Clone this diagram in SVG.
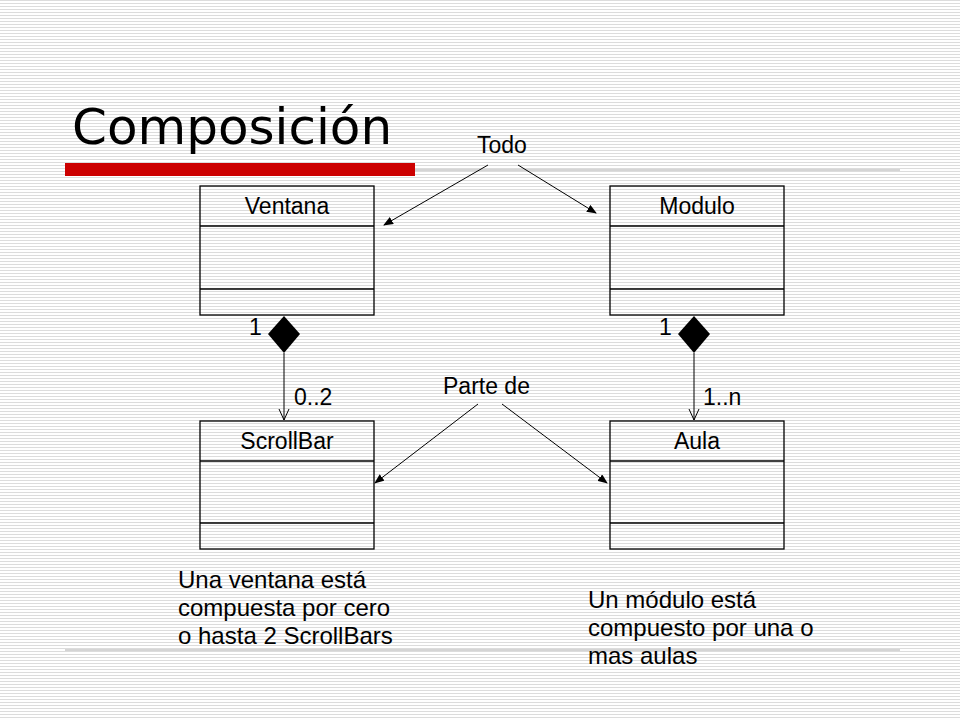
<svg xmlns="http://www.w3.org/2000/svg" width="960" height="720" viewBox="0 0 960 720">
<defs>
<pattern id="st" width="4" height="3" patternUnits="userSpaceOnUse"><rect width="4" height="3" fill="#fff"/><rect width="4" height="1" fill="#dcdcdc"/></pattern>
<marker id="a" markerWidth="10" markerHeight="8" refX="9" refY="4" orient="auto" markerUnits="userSpaceOnUse"><path d="M0,0 L10,4 L0,8 Z" fill="#000"/></marker>
<marker id="o" markerWidth="12" markerHeight="12" refX="11" refY="6" orient="auto" markerUnits="userSpaceOnUse"><path d="M0,1 L11,6 L0,11" fill="none" stroke="#000"/></marker>
</defs>
<style>
text{font-family:"Liberation Sans",Arial,sans-serif;fill:#000}
.box rect{fill:none;stroke:#000;stroke-width:1.3}
.box line{stroke:#000;stroke-width:1.3}
.n{font-size:23px;text-anchor:middle}
.l{font-size:23px}
.t{font-size:24px}
.c line{stroke:#000;stroke-width:1}
</style>
<rect width="960" height="720" fill="url(#st)"/>
<text x="72" y="144" style="font-family:'DejaVu Sans',sans-serif;font-size:50px">Composición</text>
<rect x="65" y="163" width="350" height="13" fill="#cc0000"/>
<line x1="415" y1="170" x2="900" y2="170" stroke="#aaa" stroke-width="1"/>
<line x1="65" y1="650" x2="900" y2="650" stroke="#aaa" stroke-width="1"/>
<g id="ventana" class="box"><rect x="200" y="186" width="174" height="129"/><line x1="200" y1="226" x2="374" y2="226"/><line x1="200" y1="289" x2="374" y2="289"/><text class="n" x="287" y="214">Ventana</text></g>
<g id="modulo" class="box"><rect x="610" y="186" width="174" height="129"/><line x1="610" y1="226" x2="784" y2="226"/><line x1="610" y1="289" x2="784" y2="289"/><text class="n" x="697" y="214">Modulo</text></g>
<g id="scrollbar" class="box"><rect x="200" y="421" width="174" height="128"/><line x1="200" y1="461" x2="374" y2="461"/><line x1="200" y1="523" x2="374" y2="523"/><text class="n" x="287" y="449">ScrollBar</text></g>
<g id="aula" class="box"><rect x="610" y="421" width="174" height="128"/><line x1="610" y1="461" x2="784" y2="461"/><line x1="610" y1="523" x2="784" y2="523"/><text class="n" x="697" y="449">Aula</text></g>
<g class="c">
<path d="M284,316 L300,334 L284,353 L268,334 Z" fill="#000"/>
<line x1="284" y1="353" x2="284" y2="420" marker-end="url(#o)"/>
<path d="M694,316 L710,334 L694,353 L678,334 Z" fill="#000"/>
<line x1="694" y1="353" x2="694" y2="420" marker-end="url(#o)"/>
<line x1="488" y1="165" x2="384" y2="225" marker-end="url(#a)"/>
<line x1="518" y1="165" x2="596" y2="213" marker-end="url(#a)"/>
<line x1="478" y1="404" x2="375" y2="483" marker-end="url(#a)"/>
<line x1="502" y1="404" x2="607" y2="483" marker-end="url(#a)"/>
</g>
<text class="l" x="477" y="153">Todo</text>
<text class="l" x="249" y="335">1</text>
<text class="l" x="659" y="335">1</text>
<text class="l" x="294" y="405">0..2</text>
<text class="l" x="703" y="405">1..n</text>
<text class="l" x="443" y="394">Parte de</text>
<text class="t" x="178" y="588">Una ventana está</text>
<text class="t" x="178" y="616">compuesta por cero</text>
<text class="t" x="178" y="644">o hasta 2 ScrollBars</text>
<text class="t" x="588" y="608">Un módulo está</text>
<text class="t" x="588" y="636">compuesto por una o</text>
<text class="t" x="588" y="664">mas aulas</text>
</svg>
